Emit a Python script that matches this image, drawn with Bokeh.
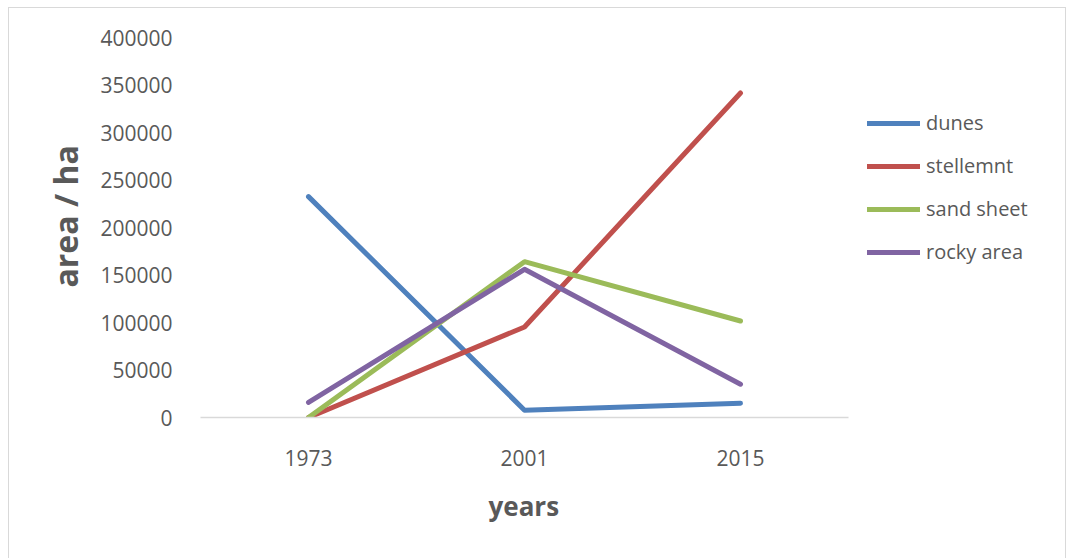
from bokeh.plotting import figure
from bokeh.models import Range1d, FixedTicker, NumeralTickFormatter, Legend, LegendItem, Title
from bokeh.embed import file_html
from bokeh.resources import INLINE

years = ["1973", "2001", "2015"]
dunes = [232500, 7700, 15000]
stellemnt = [0, 95300, 341600]
sand_sheet = [0, 164000, 101600]
rocky_area = [15800, 156000, 35000]

series_names = ["dunes", "stellemnt", "sand sheet", "rocky area"]
series_values = [dunes, stellemnt, sand_sheet, rocky_area]
colors = ["#4F81BD", "#C0504D", "#9BBB59", "#8064A2"]
y_ticks = [0, 50000, 100000, 150000, 200000, 250000, 300000, 350000, 400000]

FONT = "Open Sans"
TXT = "#595959"

x_pos = list(range(len(years)))

p = figure(width=1058, height=560, output_backend="svg", toolbar_location=None,
           x_range=Range1d(-0.5, 3.5),
           y_range=Range1d(0, 400000),
           min_border_left=191, min_border_right=3, min_border_top=29, min_border_bottom=151,
           styles={"margin-left": "8px", "margin-top": "7px", "border": "1px solid #d9d9d9"})
p.outline_line_color = None
p.xgrid.visible = False
p.ygrid.visible = False
p.background_fill_color = "white"
p.border_fill_color = "white"

items = []
for name, vals, c in zip(series_names, series_values, colors):
    r = p.line(x_pos, vals, line_color=c, line_width=5, line_cap="round", line_join="round")
    items.append(LegendItem(label=name, renderers=[r]))

# y axis
p.yaxis.ticker = FixedTicker(ticks=y_ticks)
p.yaxis.formatter = NumeralTickFormatter(format="0")
p.yaxis.axis_line_color = None
p.yaxis.major_tick_line_color = None
p.yaxis.minor_tick_line_color = None
p.yaxis.major_label_standoff = 22
p.yaxis.major_label_text_font = FONT
p.yaxis.major_label_text_font_size = "21px"
p.yaxis.major_label_text_color = TXT

# x axis
p.xaxis.ticker = FixedTicker(ticks=x_pos)
p.xaxis.major_label_overrides = {i: y for i, y in zip(x_pos, years)}
p.xaxis.bounds = (-0.5, len(years) - 0.5)
p.xaxis.axis_line_color = "#d9d9d9"
p.xaxis.axis_line_width = 1.5
p.xaxis.major_tick_line_color = None
p.xaxis.minor_tick_line_color = None
p.xaxis.major_label_standoff = 26
p.xaxis.major_label_text_font = FONT
p.xaxis.major_label_text_font_size = "21px"
p.xaxis.major_label_text_color = TXT

x_title = Title(text="years", align="left", offset=288, standoff=34,
                text_font=FONT, text_font_style="bold", text_font_size="26px", text_color=TXT)
p.add_layout(x_title, "below")
y_title = Title(text="area / ha", align="left", offset=130, standoff=22,
                text_font=FONT, text_font_style="bold", text_font_size="32px", text_color=TXT)
p.add_layout(y_title, "left")

legend = Legend(items=items, location=(667, 152), orientation="vertical",
                glyph_width=53, glyph_height=20, label_height=20, spacing=16,
                padding=0, margin=0, label_standoff=6,
                label_text_font=FONT, label_text_font_size="20px", label_text_color=TXT,
                border_line_color=None, background_fill_alpha=0)
p.add_layout(legend, "center")

open("out.html", "w").write(file_html(p, INLINE))
